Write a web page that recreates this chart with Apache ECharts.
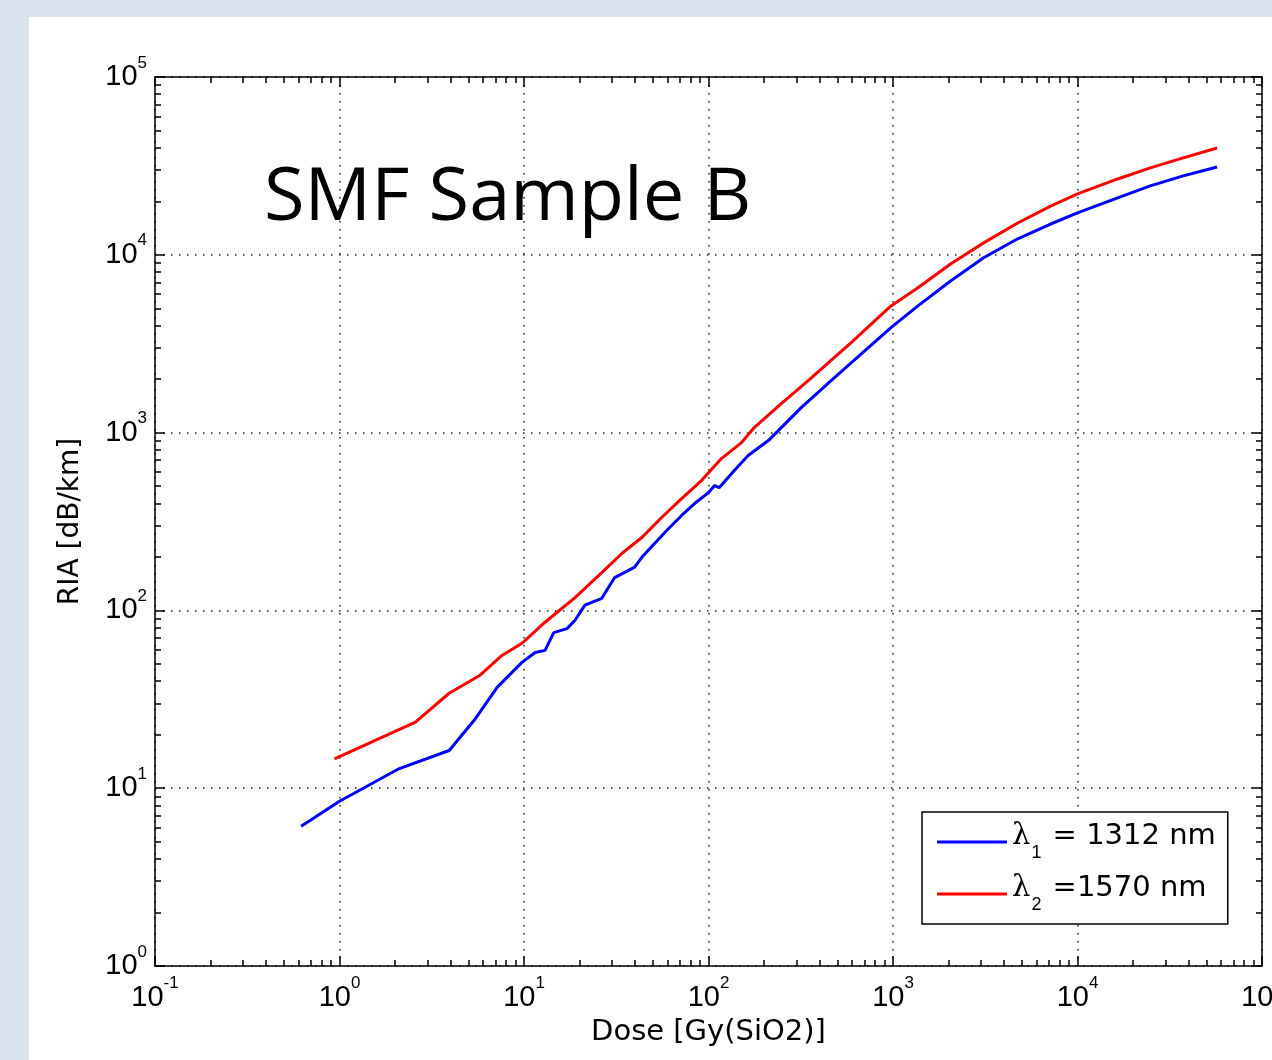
<!DOCTYPE html>
<html>
<head>
<meta charset="utf-8">
<script src="https://cdn.jsdelivr.net/npm/echarts@6/dist/echarts.min.js"></script>
<style>
    html, body { margin: 0; padding: 0; width: 1272px; height: 1060px; overflow: hidden; background: #dae4ef; }
    #panel { position: absolute; left: 29px; top: 17px; width: 1300px; height: 1100px; background: #fff; }
    #chart { position: absolute; left: 0; top: 0; width: 1300px; height: 1060px; }
</style>
</head>
<body>
<div id="panel"></div>
<div id="chart"></div>
<script>
// dose [Gy(SiO2)] and RIA [dB/km]
const blueDose = [0.62, 1.0, 2.11, 3.93, 5.37, 7.15, 9.75, 11.5, 13, 14.5, 17.1, 18.9, 21.4, 26.4, 31, 39.8, 43.5, 51, 60.8, 71.5, 84, 100, 108, 114.6, 138, 164, 211, 239, 318, 462, 593, 975, 1365, 2060, 3100, 4740, 7150, 10000, 16500, 24800, 37400, 57100];
const blueRia  = [6.1, 8.45, 12.9, 16.3, 24.1, 36.9, 51, 58, 59.6, 75, 79, 88, 107, 117, 153, 175, 199, 238, 289, 342, 399, 460, 504, 491, 612, 743, 902, 1026, 1382, 1960, 2470, 3890, 5160, 7140, 9620, 12300, 14900, 17200, 20900, 24400, 27800, 31200];
const redDose  = [0.94, 2.58, 3.93, 5.78, 7.6, 9.75, 13, 18.9, 26.4, 33.9, 43.5, 55.7, 71.5, 91.6, 117.5, 151, 177, 248, 347, 593, 975, 1365, 2060, 3100, 4740, 7150, 10000, 16500, 24800, 37400, 57100];
const redRia   = [14.6, 23.5, 34.2, 43.2, 55.8, 65.3, 85.8, 118, 163, 209, 257, 333, 425, 537, 714, 879, 1067, 1456, 1960, 3210, 5160, 6530, 8900, 11670, 15100, 18800, 22000, 26700, 30800, 35100, 39900];

const seriesNames = ['λ1 = 1312 nm', 'λ2 =1570 nm'];
const legendParts = [['1', ' = 1312 nm'], ['2', ' =1570 nm']];
const seriesColors = ['#0000ff', '#ff0000'];

const font = 'Liberation Sans, Arial, sans-serif';
const wideFont = 'DejaVu Sans, sans-serif';

function powLabel(v) {
    const e = Math.round(Math.log10(v));
    return '{b|10}{e|' + e + '}';
}

const labelRich = {
    b: { fontSize: 29, fontFamily: font, color: '#000', verticalAlign: 'top', padding: [8, 0, 8, 0] },
    e: { fontSize: 17, fontFamily: font, color: '#000', verticalAlign: 'top' }
};

function makeAxis(pos, main, name, gap) {
    return {
        type: 'log',
        logBase: 10,
        position: pos,
        name: main ? name : '',
        nameLocation: 'middle',
        nameGap: gap,
        nameTextStyle: { fontSize: 28, fontFamily: wideFont, color: '#000' },
        axisLine: { show: true, lineStyle: { color: '#000', width: 1.5 } },
        axisTick: { show: true, inside: true, length: 10, lineStyle: { color: '#000', width: 1.5 } },
        minorTick: { show: true, splitNumber: 9, length: 6, lineStyle: { color: '#000', width: 1.5 } },
        splitLine: { show: main, lineStyle: { color: '#222', width: 1.5, type: [1.5, 6.5] } },
        axisLabel: { show: main, formatter: powLabel, rich: labelRich, margin: 9 }
    };
}

const xMain = Object.assign(makeAxis('bottom', true, 'Dose [Gy(SiO2)]', 52), { min: 0.1, max: 100000 });
xMain.nameTextStyle.fontSize = 29;
const xTop = Object.assign(makeAxis('top', false), { min: 0.1, max: 100000 });
const yMain = Object.assign(makeAxis('left', true, 'RIA [dB/km]', 70), { min: 1, max: 100000 });
yMain.axisLabel.margin = 8;
const yRight = Object.assign(makeAxis('right', false), { min: 1, max: 100000 });

const chart = echarts.init(document.getElementById('chart'));

chart.setOption({
    animation: false,
    title: {
        text: 'SMF Sample B',
        left: 259,
        top: 157,
        textStyle: { fontSize: 74, fontWeight: 'normal', fontFamily: 'Open Sans, sans-serif', color: '#000' }
    },
    grid: { left: 155, top: 77, right: 38, bottom: 94 },
    xAxis: [xMain, xTop],
    yAxis: [yMain, yRight],
    legend: {
        orient: 'vertical',
        left: 922,
        top: 812,
        padding: [10, 12, 10, 15],
        itemGap: 12,
        itemWidth: 70,
        itemHeight: 3,
        icon: 'rect',
        backgroundColor: '#fff',
        borderColor: '#000',
        borderWidth: 1.5,
        borderRadius: 0,
        data: seriesNames,
        formatter: function (name) {
            const p = legendParts[seriesNames.indexOf(name)];
            return '{l|λ}{s|' + p[0] + '}{t|' + p[1] + '}';
        },
        textStyle: {
            rich: {
                l: { fontSize: 29, fontFamily: 'DejaVu Serif, serif', color: '#000', verticalAlign: 'top' },
                s: { fontSize: 18, fontFamily: font, color: '#000', verticalAlign: 'top', padding: [22, 2, 0, 1] },
                t: { fontSize: 29, fontFamily: wideFont, color: '#000', verticalAlign: 'top' }
            }
        }
    },
    series: [
        {
            name: seriesNames[0],
            type: 'line',
            showSymbol: false,
            lineStyle: { width: 3, color: seriesColors[0] },
            itemStyle: { color: seriesColors[0] },
            data: blueDose.map((d, i) => [d, blueRia[i]])
        },
        {
            name: seriesNames[1],
            type: 'line',
            showSymbol: false,
            lineStyle: { width: 3, color: seriesColors[1] },
            itemStyle: { color: seriesColors[1] },
            data: redDose.map((d, i) => [d, redRia[i]])
        }
    ]
});
</script>
</body>
</html>
